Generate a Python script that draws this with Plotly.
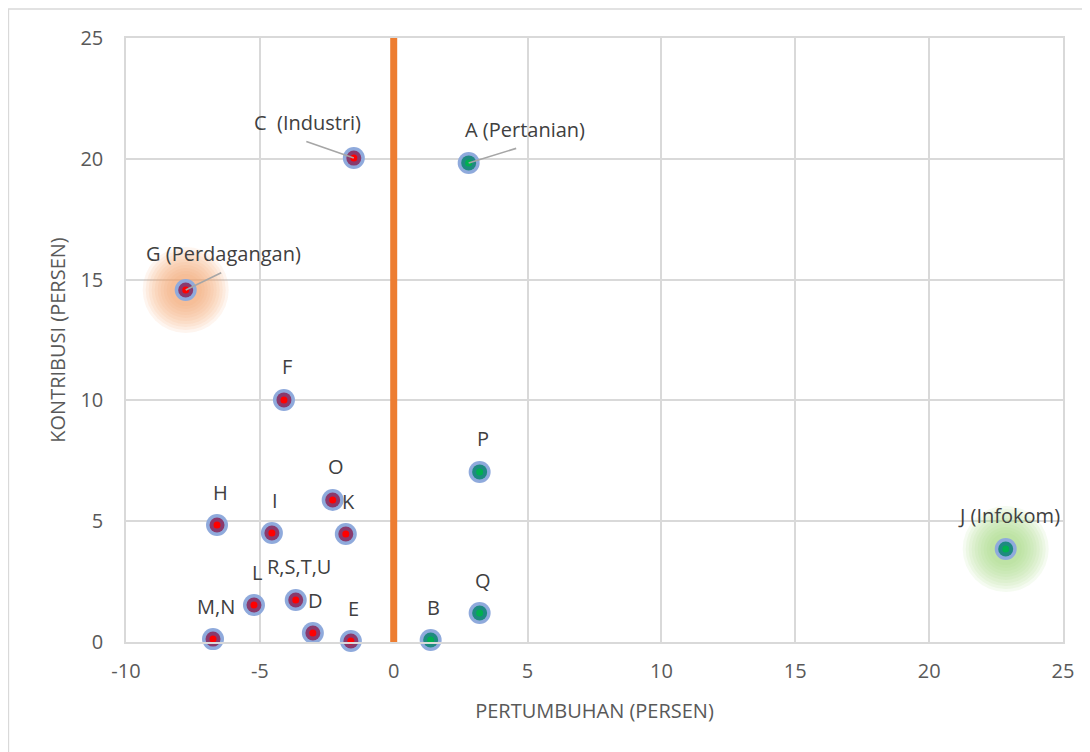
import plotly.graph_objects as go

# ---- data ----
labels = ["A (Pertanian)", "B", "C  (Industri)", "D", "E", "F", "G (Perdagangan)",
          "H", "I", "J (Infokom)", "K", "L", "M,N", "O", "P", "Q", "R,S,T,U"]
growth = [2.80, 1.38, -1.49, -3.02, -1.60, -4.10, -7.77,
          -6.60, -4.55, 22.86, -1.79, -5.22, -6.75, -2.28, 3.21, 3.21, -3.66]
contribution = [19.83, 0.08, 20.03, 0.37, 0.04, 10.02, 14.57,
                4.84, 4.51, 3.85, 4.47, 1.53, 0.12, 5.88, 7.04, 1.20, 1.74]
positive = [g >= 0 for g in growth]

x_ticks = [-10, -5, 0, 5, 10, 15, 20, 25]
x_tick_text = ["-10", "-5", "0", "5", "10", "15", "20", "25"]
y_ticks = [0, 5, 10, 15, 20, 25]
y_tick_text = ["0", "5", "10", "15", "20", "25"]

# ---- styling (label offsets in pixels) ----
label_offset = {"A (Pertanian)": (56, -33), "C  (Industri)": (-46, -36), "G (Perdagangan)": (38, -36)}
leader_offset = {"A (Pertanian)": (49, -15), "C  (Industri)": (-49, -17), "G (Perdagangan)": (37, -18)}
glow = {"G (Perdagangan)": "#f8a36a", "J (Infokom)": "#a2de7c"}

FONT = "Open Sans"
TXT = "#404040"
GRID = "#d9d9d9"

fig = go.Figure()

# glows (soft halo built from stacked translucent discs)
for lab, col in glow.items():
    i = labels.index(lab)
    for s in range(86, 28, -6):
        fig.add_trace(go.Scatter(x=[growth[i]], y=[contribution[i]], mode="markers",
                                 marker=dict(size=s, color=col, opacity=0.11, line=dict(width=0)),
                                 hoverinfo="skip", showlegend=False, cliponaxis=False))

# markers: outer ring, inner fill, centre dot
for flag, inner, dot in [(False, "#8a3a6c", "#ff0000"), (True, "#1f8a80", "#00b050")]:
    xs = [g for g, p in zip(growth, positive) if p == flag]
    ys = [c for c, p in zip(contribution, positive) if p == flag]
    for size, col in [(22, "#8faadc"), (15, inner), (7, dot)]:
        fig.add_trace(go.Scatter(x=xs, y=ys, mode="markers", hoverinfo="skip", showlegend=False,
                                 cliponaxis=False,
                                 marker=dict(size=size, color=col, line=dict(width=0))))

# labels
for lab, gx, cy in zip(labels, growth, contribution):
    ox, oy = label_offset.get(lab, (3, -33))
    fig.add_annotation(x=gx, y=cy, text=lab, showarrow=False, xshift=ox, yshift=-oy,
                       font=dict(family=FONT, size=20, color=TXT))
    if lab in leader_offset:
        ax, ay = leader_offset[lab]
        fig.add_annotation(x=gx, y=cy, text="", showarrow=True, arrowhead=0, arrowwidth=1.6,
                           arrowcolor="#a6a6a6", ax=ax, ay=ay, standoff=0, startstandoff=0)

# zero growth line
fig.add_vline(x=0, line=dict(color="#ed7d31", width=7), layer="above")

# outer chart border
fig.add_shape(type="rect", xref="paper", yref="paper", x0=-0.1255, y0=-0.3, x1=1.1, y1=1.048,
              line=dict(color=GRID, width=1.5), layer="below")

axis_common = dict(showgrid=True, gridcolor=GRID, gridwidth=1.5, zeroline=False,
                   showline=True, linecolor=GRID, linewidth=1.5, mirror=True, ticks="",
                   tickfont=dict(family=FONT, size=20, color="#595959"))

fig.update_layout(
    width=1090, height=752,
    margin=dict(l=118, r=35, t=30, b=118),
    paper_bgcolor="white", plot_bgcolor="white",
    xaxis=dict(range=[-10, 25], tickvals=x_ticks, ticktext=x_tick_text, ticklabelstandoff=10,
               title=dict(text="PERTUMBUHAN (PERSEN)", standoff=21,
                          font=dict(family=FONT, size=20, color="#595959")),
               **axis_common),
    yaxis=dict(range=[0, 25], tickvals=y_ticks, ticktext=y_tick_text, ticklabelstandoff=17,
               title=dict(text="KONTRIBUSI (PERSEN)", standoff=9,
                          font=dict(family=FONT, size=20, color="#595959")),
               **axis_common),
)

fig.write_html("out.html")
